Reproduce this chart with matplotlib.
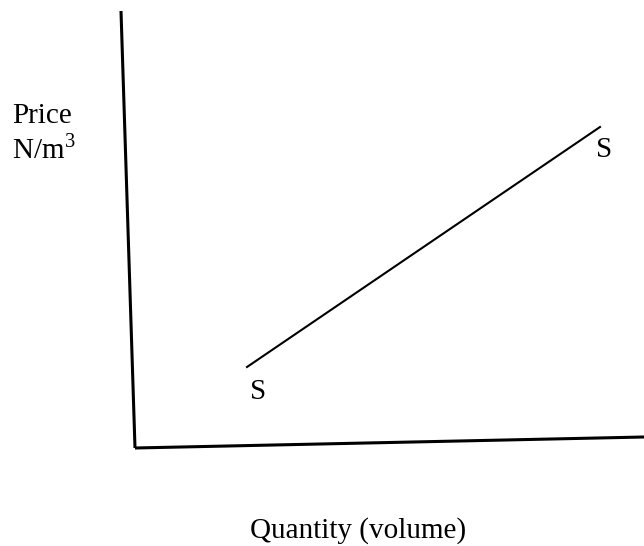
import matplotlib
matplotlib.use('Agg')
import matplotlib.pyplot as plt

# 坐标轴（手绘风格，略有倾斜）
y_axis_x = [121, 135]
y_axis_y = [11, 448]
x_axis_x = [135, 644]
x_axis_y = [448, 437]

# 供给曲线 S
supply_q = [247, 600]
supply_p = [367, 127]

plt.rcParams['font.family'] = ['Liberation Serif', 'DejaVu Serif']
plt.rcParams['mathtext.fontset'] = 'custom'
plt.rcParams['mathtext.rm'] = 'Liberation Serif'

fig = plt.figure(figsize=(6.44, 5.46), dpi=100)
ax = fig.add_axes([0, 0, 1, 1])
ax.set_xlim(0, 644)
ax.set_ylim(546, 0)
ax.axis('off')

ax.plot(y_axis_x, y_axis_y, color='black', lw=2.2, solid_capstyle='butt')
ax.plot(x_axis_x, x_axis_y, color='black', lw=2.2, solid_capstyle='butt')
ax.plot(supply_q, supply_p, color='black', lw=1.5)

fs = 21
ax.text(258, 392, 'S', fontsize=fs, ha='center', va='center')
ax.text(604, 150, 'S', fontsize=fs, ha='center', va='center')
ax.text(12, 123, 'Price', fontsize=fs, ha='left', va='baseline')
ax.text(12, 158, r'N/m$^{\mathrm{3}}$', fontsize=fs, ha='left', va='baseline')
ax.text(358, 538, 'Quantity (volume)', fontsize=fs, ha='center', va='baseline')

fig.savefig('out.png', dpi=100)
